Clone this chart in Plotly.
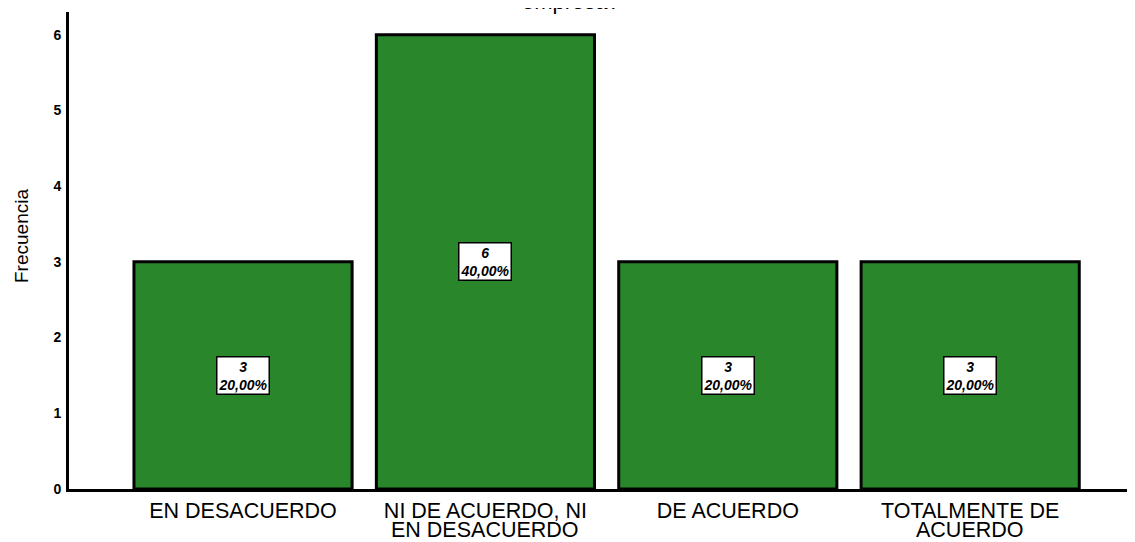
import plotly.graph_objects as go

categories = ["EN DESACUERDO", "NI DE ACUERDO, NI<br>EN DESACUERDO", "DE ACUERDO", "TOTALMENTE DE<br>ACUERDO"]
counts = [3, 6, 3, 3]
percents = ["20,00%", "40,00%", "20,00%", "20,00%"]
y_ticks = [0, 1, 2, 3, 4, 5, 6]
title_text = "empresa?"
y_title = "Frecuencia"

FONT = "Liberation Sans, Arial, sans-serif"

first_lines = [c.split("<br>")[0] for c in categories]
second_lines = [c.split("<br>")[1] if "<br>" in c else "" for c in categories]

fig = go.Figure()
fig.add_trace(go.Bar(
    x=list(range(len(categories))), y=counts,
    marker=dict(color="#2a862a", line=dict(color="black", width=3)),
    width=0.9, hoverinfo="skip"
))

for i, (c, p) in enumerate(zip(counts, percents)):
    fig.add_annotation(
        x=i, y=c / 2, xref="x", yref="y", xanchor="center", yanchor="middle",
        text=f"<b><i>{c}<br>{p}</i></b>",
        showarrow=False, bgcolor="white", bordercolor="black", borderwidth=1.5,
        borderpad=1,
        font=dict(family=FONT, size=14, color="black"),
    )

for i, s in enumerate(second_lines):
    if s:
        fig.add_annotation(
            x=i, y=0, xref="x", yref="paper", xanchor="center", yanchor="top", yshift=-27.5,
            text=s, showarrow=False, borderpad=0,
            font=dict(family=FONT, size=21.5, color="black"),
        )

fig.add_annotation(
    x=(571 - 69) / 1066, y=1, xref="paper", yref="paper", xanchor="center", yanchor="bottom",
    yshift=-4,
    text=title_text, showarrow=False,
    font=dict(family=FONT, size=22, color="black"),
)

fig.add_annotation(
    x=0, y=(489 - 236) / 477, xref="paper", yref="paper", xanchor="center", yanchor="middle",
    xshift=-47,
    text=y_title, textangle=-90, showarrow=False,
    font=dict(family=FONT, size=19, color="black"),
)

fig.update_layout(
    width=1127, height=534,
    margin=dict(l=61, r=0, t=4, b=53),
    plot_bgcolor="white", paper_bgcolor="white",
    showlegend=False,
    xaxis=dict(
        range=[-0.718, 3.68], tickmode="array",
        tickvals=list(range(len(categories))), ticktext=first_lines,
        showline=True, linecolor="black", linewidth=3, showgrid=False,
        zeroline=False, ticks="",
        tickfont=dict(family=FONT, size=21.5, color="black"),
    ),
    yaxis=dict(
        range=[0, 6.3], tickmode="array", tickvals=y_ticks,
        showline=True, linecolor="black", linewidth=3, showgrid=False,
        zeroline=False, ticks="", ticklabelstandoff=2,
        tickfont=dict(family=FONT, size=14, color="black", weight="bold"),
    ),
)

fig.write_html("out.html")
